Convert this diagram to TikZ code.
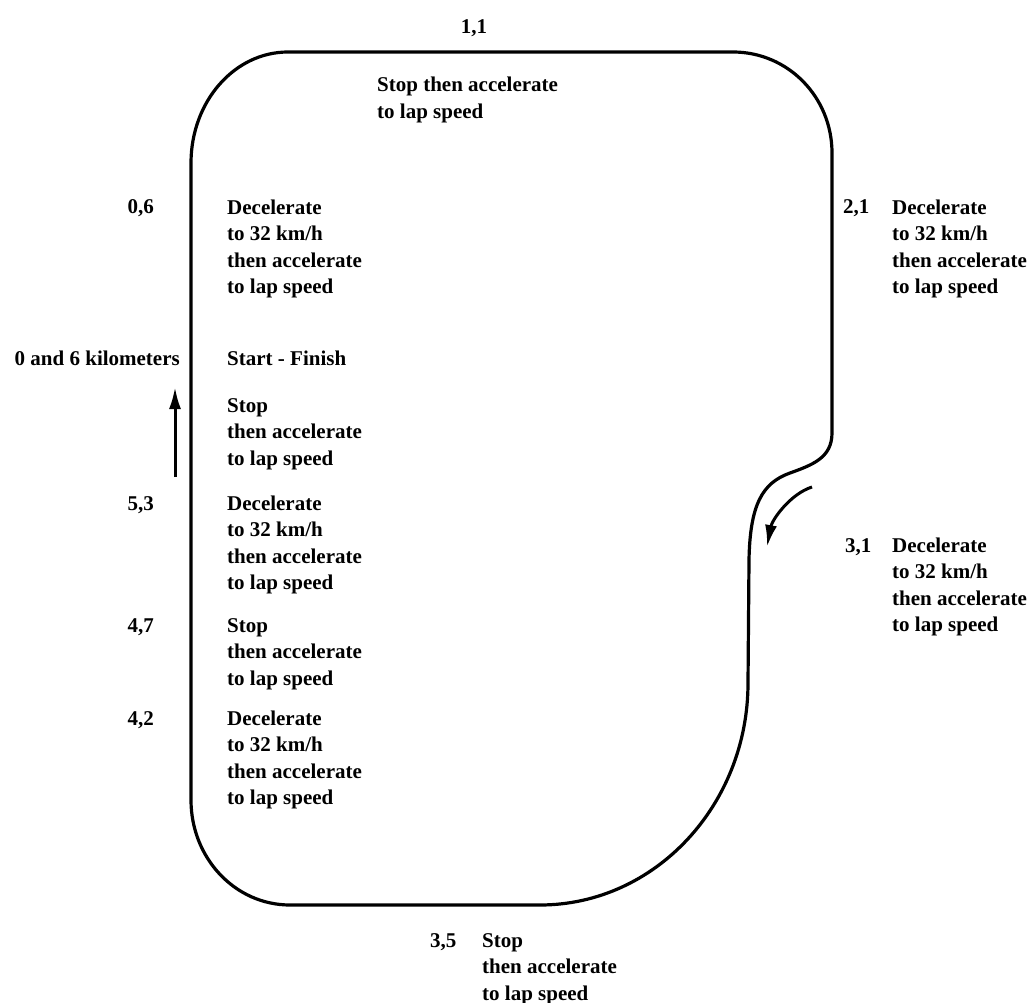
\documentclass[tikz,border=0pt]{standalone}
\usepackage{fontspec}
\setmainfont{Liberation Serif}
\usetikzlibrary{arrows.meta,positioning}

\begin{document}
\begin{tikzpicture}[x=1pt, y=-1pt,
  km/.style={inner sep=0pt, font=\fontsize{21}{26.5}\selectfont\bfseries},
  note/.style={inner sep=0pt, align=left, anchor=base west, font=\fontsize{21}{26.5}\selectfont\bfseries},
  track/.style={line width=3.2pt, line join=round},
  dir/.style={-{Latex[length=22pt,width=12pt]}, line width=3pt}
]
  \useasboundingbox (0,0) rectangle (1033,1003);

  %% Track outline
  \draw[track] (288,52) -- (733,52)
    .. controls (788,52) and (832,97) .. (832,153) -- (832,433)
    .. controls (832,458) and (812,465) .. (790,473)
    .. controls (762,483) and (750,505) .. (749,560) -- (748,683)
    .. controls (748,805) and (655,905) .. (540,905) -- (290,905)
    .. controls (235,905) and (191,858) .. (191,800) -- (191,163)
    .. controls (191,102) and (234,52) .. (288,52) -- cycle;

  %% Top (note nodes sit on the baseline of their last line)
  \node[km, anchor=base] (k11) at (474,34) {1,1};
  \node[note] (n11) at (377,118.5) {Stop then accelerate\\to lap speed};

  %% Left side
  \node[km, anchor=base east] (k06) at (154,214) {0,6};
  \node[note] (n06) at (227,293.5) {Decelerate\\to 32 km/h\\then accelerate\\to lap speed};
  \node[km, anchor=base east] (k00) at (180,365) {0 and 6 kilometers};
  \node[note] (n00) at (227,365) {Start - Finish};
  \node[note] (n59) at (227,465) {Stop\\then accelerate\\to lap speed};
  \node[km, anchor=base east] (k53) at (154,510) {5,3};
  \node[note] (n53) at (227,589.5) {Decelerate\\to 32 km/h\\then accelerate\\to lap speed};
  \node[km, anchor=base east] (k47) at (154,632) {4,7};
  \node[note] (n47) at (227,685) {Stop\\then accelerate\\to lap speed};
  \node[km, anchor=base east] (k42) at (154,725) {4,2};
  \node[note] (n42) at (227,804.5) {Decelerate\\to 32 km/h\\then accelerate\\to lap speed};

  %% Right side
  \node[km, anchor=base west] (k21) at (843,214) {2,1};
  \node[note] (n21) at (892,293.5) {Decelerate\\to 32 km/h\\then accelerate\\to lap speed};
  \node[km, anchor=base west] (k31) at (845,552) {3,1};
  \node[note] (n31) at (892,631.5) {Decelerate\\to 32 km/h\\then accelerate\\to lap speed};

  %% Bottom
  \node[km, anchor=base west] (k35) at (430,947) {3,5};
  \node[note] (n35) at (482,1000) {Stop\\then accelerate\\to lap speed};

  %% Direction arrows
  \coordinate (upA) at (175,477);
  \coordinate (upB) at (175,387);
  \draw[dir] (upA) -- (upB);
  \coordinate (bendA) at (812,487);
  \coordinate (bendB) at (767,547);
  \draw[dir] (bendA) .. controls (790,494) and (772,520) .. (bendB);
\end{tikzpicture}
\end{document}
